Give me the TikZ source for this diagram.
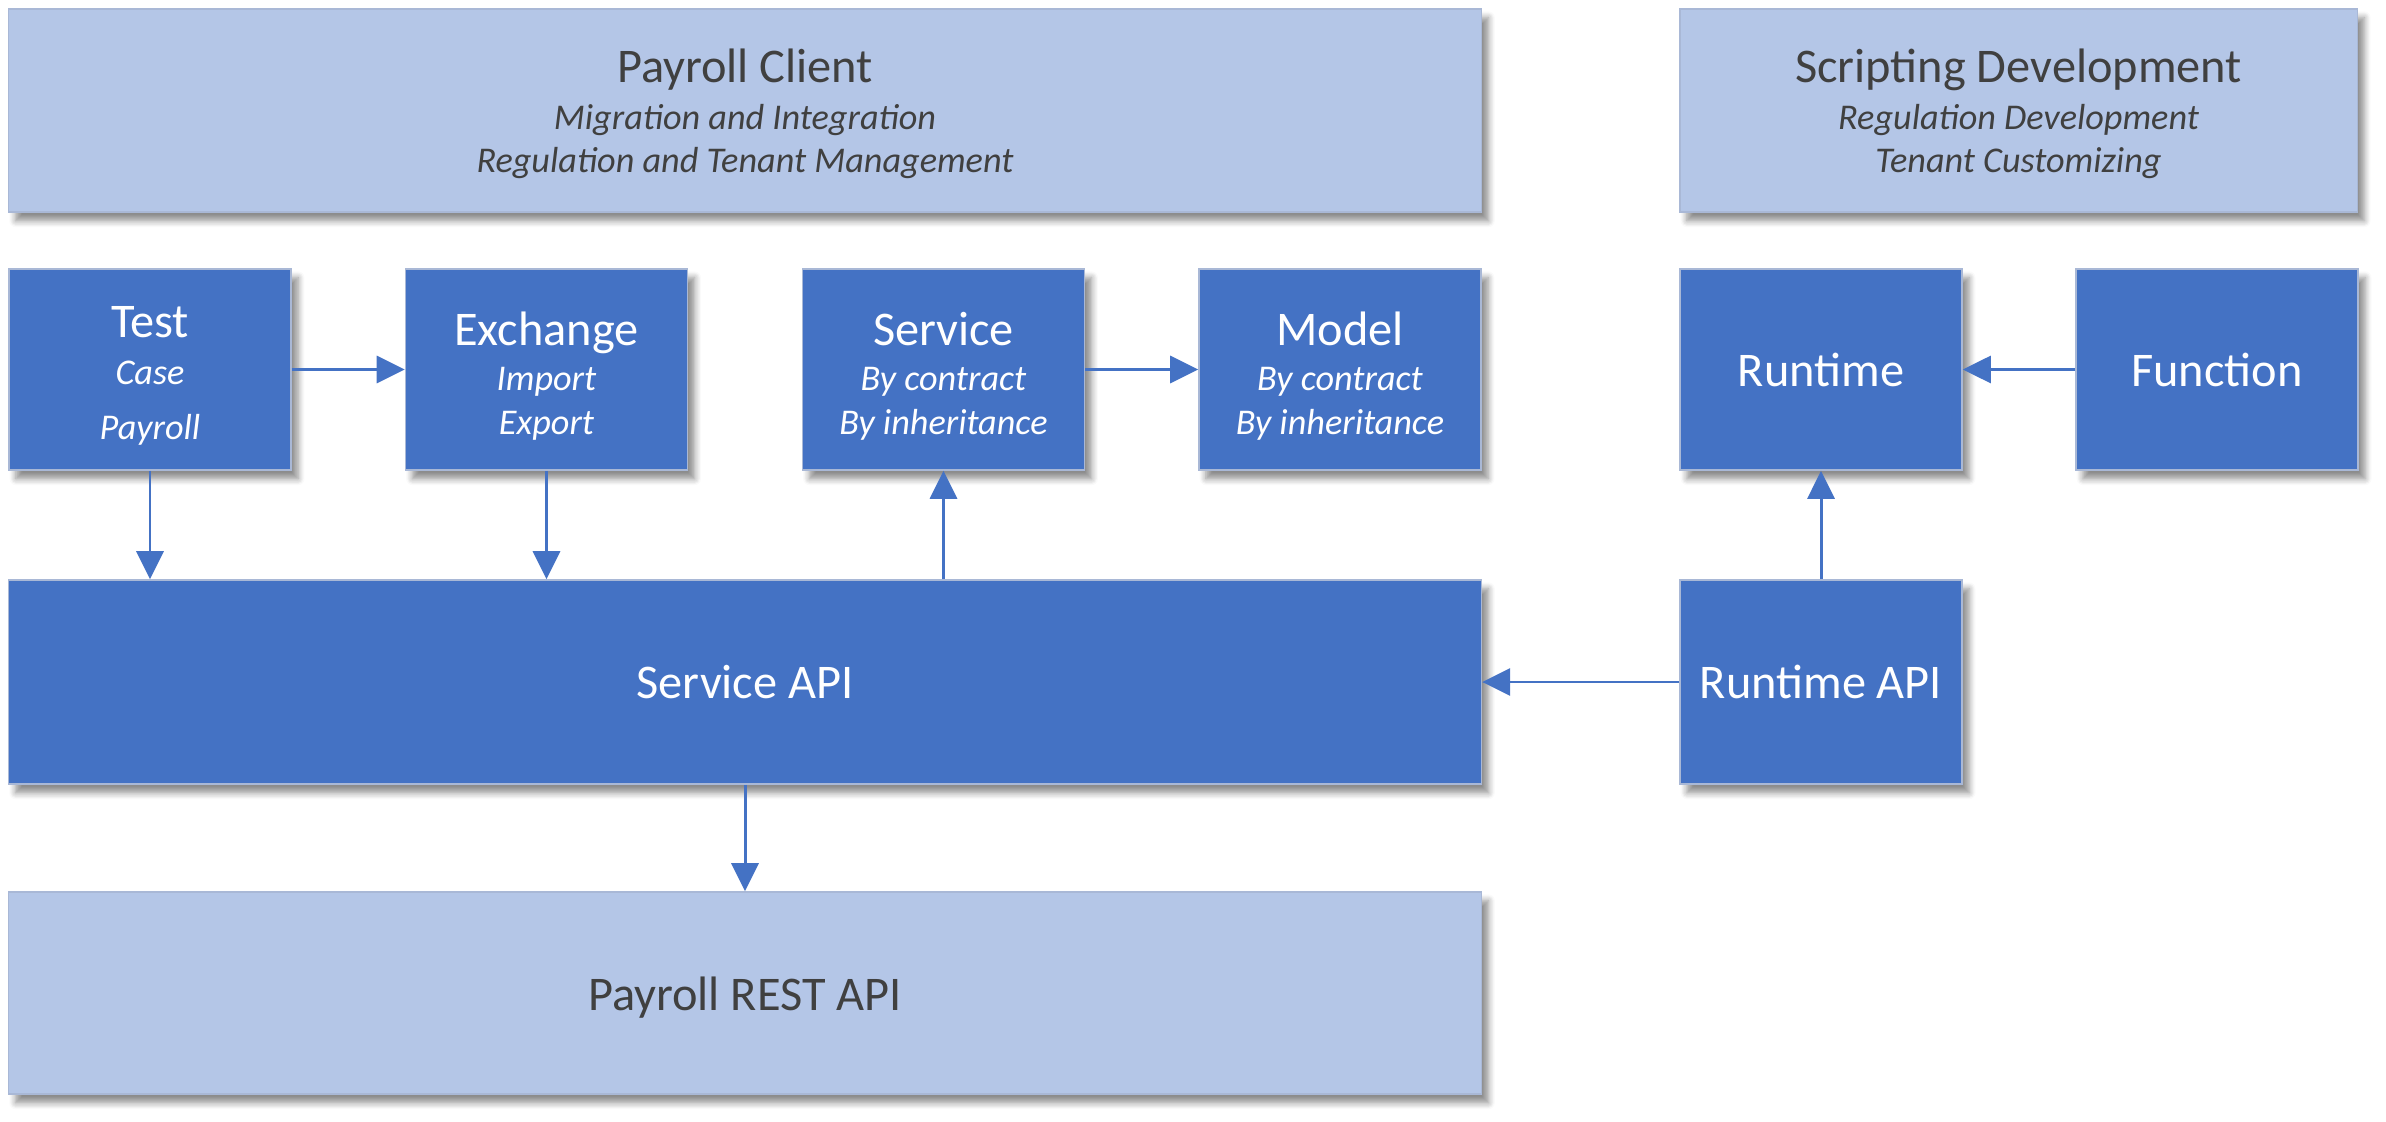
\documentclass[tikz,border=0pt]{standalone}
\usepackage{fontspec}
\setmainfont{Carlito}
\usetikzlibrary{arrows.meta,shadows.blur}
\definecolor{dblue}{HTML}{4472C4}
\definecolor{lblue}{HTML}{B4C6E7}
\definecolor{dtext}{HTML}{404040}
\definecolor{edge}{HTML}{A9B8D6}
\newcommand\ttlf{\fontsize{13.75}{15}\selectfont}
\newcommand\subf{\fontsize{10.3}{12}\selectfont\itshape}
\newcommand\pushdown[1]{\rule{0pt}{#1}}
\tikzset{
  box/.style={draw=edge, line width=0.4pt, inner sep=0pt, align=center,
    font=\fontsize{10.3}{12}\selectfont,
    blur shadow={shadow xshift=2pt, shadow yshift=-2.5pt, shadow blur steps=6,
      shadow blur radius=1.8pt, shadow opacity=45}},
  darkbox/.style={box, fill=dblue, text=white, minimum width=2.82cm, minimum height=2.01cm},
  lightbox/.style={box, fill=lblue, text=dtext},
  conn/.style={draw=dblue, line width=0.85pt, -{Triangle[length=0.28cm,width=0.27cm]}}
}
\begin{document}
\begin{tikzpicture}[x=0.01cm,y=-0.01cm]
\useasboundingbox (0,0) rectangle (2386,1122);
\node[lightbox, minimum width=14.72cm, minimum height=2.03cm] (pc) at (745,110.5)
  {{\ttlf\pushdown{11.6pt}Payroll Client}\\[1.2pt]{\subf Migration and Integration}\\[0.4pt]{\subf Regulation and Tenant Management}};
\node[lightbox, minimum width=6.77cm, minimum height=2.03cm] (sd) at (2018.5,110.5)
  {{\ttlf\pushdown{11.6pt}Scripting Development}\\[1.2pt]{\subf Regulation Development}\\[0.4pt]{\subf Tenant Customizing}};
\node[darkbox] (test) at (150,369.5)
  {{\ttlf\pushdown{12.5pt}Test}\\[1.2pt]{\subf Case}\\[3.6pt]{\subf Payroll}};
\node[darkbox] (exch) at (546.5,369.5)
  {{\ttlf\pushdown{13.2pt}Exchange}\\[0.85pt]{\subf Import}\\[0.4pt]{\subf Export}};
\node[darkbox] (serv) at (943.5,369.5)
  {{\ttlf\pushdown{13.2pt}Service}\\[0.85pt]{\subf By contract}\\[0.4pt]{\subf By inheritance}};
\node[darkbox] (model) at (1340,369.5)
  {{\ttlf\pushdown{13.2pt}Model}\\[0.85pt]{\subf By contract}\\[0.4pt]{\subf By inheritance}};
\node[darkbox] (runtime) at (1821,369.5) {\ttlf Runtime};
\node[darkbox] (func) at (2217,369.5) {\ttlf Function};
\node[darkbox, minimum width=14.72cm, minimum height=2.04cm] (sapi) at (745,682) {\ttlf Service API};
\node[darkbox, minimum height=2.04cm] (rapi) at (1821,682) {\ttlf Runtime API};
\node[lightbox, minimum width=14.72cm, minimum height=2.02cm] (rest) at (745,993) {\ttlf\pushdown{12.4pt}Payroll REST API};
\draw[conn] (test.east) -- (exch.west);
\draw[conn] (serv.east) -- (model.west);
\draw[conn] (func.west) -- (runtime.east);
\draw[conn] (test.south) -- (test.south |- sapi.north);
\draw[conn] (exch.south) -- (exch.south |- sapi.north);
\draw[conn] (serv.south |- sapi.north) -- (serv.south);
\draw[conn] (rapi.north) -- (runtime.south);
\draw[conn] (rapi.west) -- (sapi.east);
\draw[conn] (sapi.south) -- (rest.north);
\end{tikzpicture}
\end{document}
